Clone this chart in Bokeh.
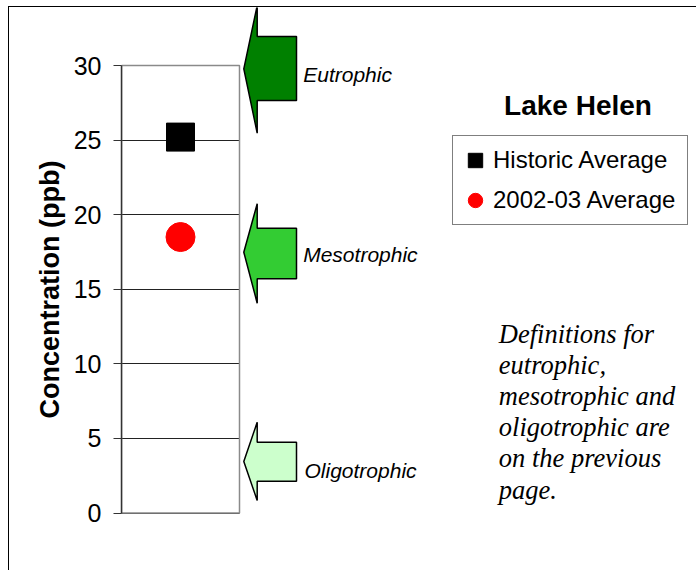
from bokeh.plotting import figure
from bokeh.models import Range1d, FixedTicker, Legend, LegendItem
from bokeh.core.properties import value
from bokeh.embed import file_html
from bokeh.resources import INLINE

# ---------------- data ----------------
categories = ["Lake Helen"]
series_names = ["Historic Average", "2002-03 Average"]
historic_avg = [25.2]
recent_avg = [18.5]
y_ticks = [0, 5, 10, 15, 20, 25, 30]
axis_title = "Concentration (ppb)"
chart_title = "Lake Helen"
trophic_labels = ["Eutrophic", "Mesotrophic", "Oligotrophic"]
note_lines = ["Definitions for", "eutrophic,", "mesotrophic and",
              "oligotrophic are", "on the previous", "page."]

# ---------------- layout (page pixels) ----------------
OFF_X, OFF_Y = 9, 7          # figure position on the page
W, H = 697 - OFF_X, 571 - OFF_Y
BOX_L, BOX_R = 121, 239          # plot box in page px
Y_TOP_PX, Y_BOT_PX = 65, 512.5   # pixel of max / min tick
ymin, ymax = min(y_ticks), max(y_ticks)
ppu_y = (Y_BOT_PX - Y_TOP_PX) / (ymax - ymin)
ppu_x = BOX_R - BOX_L

def dx(px):
    return (px - BOX_L) / ppu_x

def dy(py):
    return ymin + (Y_BOT_PX - py) / ppu_y

frame_top = OFF_Y
frame_bot = OFF_Y + H
frame_right = OFF_X + W

p = figure(width=W, height=H, output_backend="svg", toolbar_location=None,
           title=None, x_axis_type=None,
           x_range=Range1d(dx(BOX_L), dx(frame_right)),
           y_range=Range1d(dy(frame_bot), dy(frame_top)),
           min_border_left=BOX_L - OFF_X, min_border_right=0,
           min_border_top=0, min_border_bottom=0)
p.outline_line_color = None
p.background_fill_color = "white"
p.border_fill_color = "white"
p.styles = {"margin-left": f"{OFF_X}px", "margin-top": f"{OFF_Y}px",
            "box-shadow": "-1px -1px 0 0 #000000"}

# y axis
ax = p.yaxis[0]
ax.ticker = FixedTicker(ticks=y_ticks)
ax.bounds = (ymin, ymax)
ax.axis_line_color = "#333333"
ax.axis_line_width = 1.5
ax.major_tick_line_color = "#333333"
ax.major_tick_out = 8
ax.major_tick_in = 0
ax.minor_tick_line_color = None
ax.major_label_text_font = "Liberation Sans"
ax.major_label_text_font_size = "25px"
ax.major_label_text_color = "black"
ax.major_label_standoff = 12
ax.axis_label = axis_title
ax.axis_label_text_font = "Liberation Sans"
ax.axis_label_text_font_style = "bold"
ax.axis_label_text_font_size = "27px"
ax.axis_label_text_color = "black"
ax.axis_label_standoff = 6

# grid limited to the box
p.xgrid.visible = False
g = p.ygrid[0]
g.ticker = FixedTicker(ticks=y_ticks)
g.grid_line_color = "#222222"
g.grid_line_width = 1
use_seg = False
try:
    g.cross_bounds = (0, len(categories))
except Exception:
    use_seg = True
if use_seg:
    g.visible = False
    p.segment(x0=[0] * len(y_ticks), x1=[len(categories)] * len(y_ticks),
              y0=y_ticks, y1=y_ticks, line_color="#222222", line_width=1)

# plot box
p.quad(left=[0], right=[len(categories)], bottom=[ymin], top=[ymax],
       fill_color=None, line_color="#8a8a8a", line_width=1.5)

# data points
xcat = [i + 0.5 for i in range(len(categories))]
r_hist = p.scatter(xcat, historic_avg, marker="square", size=28,
                   fill_color="black", line_color="black")
r_rec = p.scatter(xcat, recent_avg, marker="circle", size=29,
                  fill_color="red", line_color="red")

# trophic arrows (page px)
arrow_geom = [  # tip_y, head_top, head_bottom, body_top, body_bottom
    (68.3, 5, 132.7, 36, 100),
    (251.7, 203.3, 302.7, 227.7, 278.3),
    (461, 421.7, 500, 441.7, 480.7),
]
arrow_colors = ["#008000", "#33cc33", "#ccffcc"]
TIP_X, NECK_X, RIGHT_X = 243.3, 256.7, 296
xs, ys = [], []
for tip, ht, hb, bt, bb in arrow_geom:
    pts = [(TIP_X, tip), (NECK_X, ht), (NECK_X, bt), (RIGHT_X, bt),
           (RIGHT_X, bb), (NECK_X, bb), (NECK_X, hb)]
    xs.append([dx(a) for a, _ in pts])
    ys.append([dy(b) for _, b in pts])
p.patches(xs, ys, fill_color=arrow_colors, line_color="black", line_width=1.5)

label_px = [(302.7, 74), (302.7, 254), (304, 470)]
p.text(x=[dx(a) for a, _ in label_px], y=[dy(b) for _, b in label_px],
       text=trophic_labels, text_font=value("Liberation Sans"),
       text_font_style="italic", text_font_size="21px", text_color="black",
       text_align="left", text_baseline="middle")

# title
p.text(x=[dx(577.5)], y=[dy(105)], text=[chart_title],
       text_font=value("Liberation Sans"), text_font_style="bold",
       text_font_size="28px", text_color="black",
       text_align="center", text_baseline="middle")

# note
p.text(x=[dx(498.3)] * len(note_lines),
       y=[dy(333.5 + 31.1 * k) for k in range(len(note_lines))],
       text=note_lines, text_font=value("Liberation Serif"),
       text_font_style="italic", text_font_size="26.5px", text_color="black",
       text_align="left", text_baseline="middle")

# legend
LEG_L, LEG_B = 452, 225
legend = Legend(items=[LegendItem(label=series_names[0], renderers=[r_hist]),
                       LegendItem(label=series_names[1], renderers=[r_rec])],
                location=(LEG_L - BOX_L, frame_bot - LEG_B))
legend.glyph_width = 36
legend.glyph_height = 40
legend.label_standoff = 0
legend.label_width = 190
legend.padding = 4
legend.spacing = 0
legend.margin = 0
legend.border_line_color = "black"
legend.border_line_width = 1
legend.background_fill_color = "white"
legend.background_fill_alpha = 1
legend.label_text_font = "Liberation Sans"
legend.label_text_font_size = "24px"
legend.label_text_color = "black"
p.add_layout(legend, "center")

open("out.html", "w").write(file_html(p, INLINE))
